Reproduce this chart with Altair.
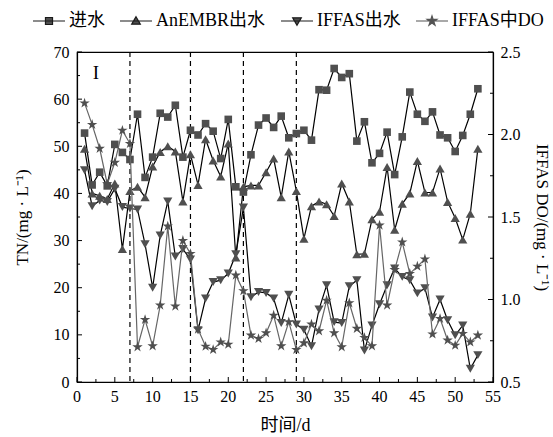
import altair as alt
import pandas as pd

# ---------------- data ----------------
days = list(range(1, 54))
influent = [52.8, 41.8, 44.5, 41.6, 50.4, 48.7, 47.2, 56.8, 43.4, 47.7,
            57.0, 56.2, 58.7, 47.7, 53.4, 52.4, 54.8, 53.2, 47.4, 55.7,
            41.4, 40.3, 48.2, 54.5, 56.0, 54.0, 56.4, 51.8, 52.7, 53.4,
            51.3, 62.0, 61.9, 66.5, 64.6, 65.4, 51.1, 55.2, 46.5, 48.5,
            53.0, 44.0, 52.0, 61.5, 56.8, 55.3, 57.3, 52.4, 51.8, 48.9,
            52.3, 56.8, 62.2]
anembr = [49.5, 40.0, 39.5, 38.8, 42.1, 28.2, 40.5, 41.4, 39.2, 45.7,
          48.8, 50.0, 48.9, 38.3, 48.3, 41.8, 51.5, 47.0, 43.6, 50.6,
          26.4, 41.4, 41.7, 41.7, 44.5, 47.4, 39.2, 48.9, 40.5, 30.4,
          37.3, 38.3, 37.7, 35.2, 42.1, 38.3, 27.1, 27.2, 34.5, 36.1,
          45.6, 32.3, 37.8, 40.0, 46.9, 40.2, 40.2, 45.3, 38.2, 34.8,
          30.2, 35.7, 49.5]
iffas = [44.9, 37.3, 38.5, 38.2, 41.0, 37.1, 36.8, 36.6, 29.2, 20.0,
         31.1, 38.3, 26.6, 28.2, 26.0, 11.0, 17.7, 21.2, 21.6, 23.0,
         27.1, 37.0, 18.0, 19.1, 18.9, 17.7, 12.5, 18.5, 12.2, 11.1,
         7.6, 15.4, 20.5, 12.7, 12.5, 20.3, 21.6, 6.7, 12.0, 16.5,
         20.5, 24.1, 22.3, 21.6, 18.8, 19.9, 13.7, 17.5, 13.1, 9.9,
         12.0, 2.8, 5.7]
do_vals = [2.19, 2.06, 1.915, 1.70, 1.83, 2.025, 1.945, 0.712, 0.878, 0.718,
           0.965, 1.444, 0.959, 1.357, 1.278, 0.82, 0.716, 0.696, 0.742, 0.728,
           1.147, 1.052, 0.783, 0.763, 0.797, 0.904, 0.718, 0.864, 0.696, 0.736,
           0.85, 0.809, 0.995, 0.797, 0.712, 0.979, 0.824, 0.769, 0.718, 1.45,
           0.965, 1.18, 1.348, 1.157, 1.201, 1.245, 0.79, 0.884, 0.753, 0.722,
           0.793, 0.742, 0.783]
series_names = ["进水", "AnEMBR出水", "IFFAS出水", "IFFAS中DO"]
phase_days = [7, 15, 22, 29]
x_major = list(range(0, 56, 5))
x_minor = [2.5 + 5 * i for i in range(11)]
tn_major = list(range(0, 71, 10))
tn_minor = list(range(5, 70, 10))
do_major = [0.5, 1.0, 1.5, 2.0, 2.5]
do_minor = [0.75, 1.25, 1.75, 2.25]

# ---------------- styles ----------------
FONT = "Liberation Serif, Noto Sans CJK SC"
MARK = "#4f4f4f"
STAR = ("M0,-1L0.2245,-0.309L0.951,-0.309L0.363,0.118L0.588,0.809L0,0.382"
        "L-0.588,0.809L-0.363,0.118L-0.951,-0.309L-0.2245,-0.309Z")
LEG_SQ = "M-1,0H1M-0.22,-0.22H0.22V0.22H-0.22Z"
LEG_TU = "M-1,0H1M0,-0.27L0.27,0.2L-0.27,0.2Z"
LEG_TD = "M-1,0H1M0,0.27L0.27,-0.2L-0.27,-0.2Z"
LEG_ST = ("M-1,0H1M0,-0.32L0.0718,-0.0989L0.3043,-0.0989L0.1162,0.0378L0.1882,0.2589"
          "L0,0.1222L-0.1882,0.2589L-0.1162,0.0378L-0.3043,-0.0989L-0.0718,-0.0989Z")

tn_df = pd.DataFrame({
    "day": days * 3,
    "value": influent + anembr + iffas,
    "series": [series_names[0]] * len(days) + [series_names[1]] * len(days)
              + [series_names[2]] * len(days),
})
do_df = pd.DataFrame({"day": days, "do": do_vals})

x_axis = alt.Axis(values=x_major, title="时间/d", ticks=False, grid=False, labels=False,
                  titlePadding=34, titleFontSize=18)
X = alt.X("day:Q", scale=alt.Scale(domain=[0, 55], nice=False, zero=False), axis=x_axis)
Y_TN = alt.Y("value:Q", scale=alt.Scale(domain=[0, 70], nice=False),
             axis=alt.Axis(orient="left", values=tn_major, title="TN/(mg · L⁻¹)",
                           ticks=False, grid=False, labelPadding=8, titlePadding=22,
                           labelOverlap=False))
Y_DO = alt.Y("do:Q", scale=alt.Scale(domain=[0.5, 2.5], nice=False, zero=False),
             axis=alt.Axis(orient="right", values=do_major, format=".1f",
                           title="IFFAS DO/(mg · L⁻¹)", ticks=False, grid=False,
                           labelPadding=7, titlePadding=12, labelOverlap=False))

# ---------------- left (TN) group ----------------
dashed = alt.Chart(pd.DataFrame({"day": phase_days})).mark_rule(
    color="black", strokeWidth=1.2, strokeDash=[5, 4]).encode(x=X)

tn_lines = alt.Chart(tn_df).mark_line(color="black", strokeWidth=1.2).encode(
    x=X, y=Y_TN, detail="series:N")

shapes = ["square", "triangle-up", "triangle-down"]
sizes = [58, 85, 85]
tn_points = [
    alt.Chart(tn_df).transform_filter(alt.datum.series == series_names[i]).mark_point(
        shape=shapes[i], filled=True, color=MARK, opacity=1, size=sizes[i]).encode(
        x=X, y=Y_TN)
    for i in range(3)
]

xt_major = alt.Chart(pd.DataFrame({"day": x_major})).mark_rule(
    color="black", strokeWidth=1).encode(x=X, y=alt.value(330), y2=alt.value(325))
xt_minor = alt.Chart(pd.DataFrame({"day": x_minor})).mark_rule(
    color="black", strokeWidth=1).encode(x=X, y=alt.value(330), y2=alt.value(327))
x_labels = alt.Chart(pd.DataFrame({"day": x_major})).mark_text(
    font=FONT, fontSize=16, color="black", baseline="top", align="center").encode(
    x=X, y=alt.value(337), text=alt.Text("day:Q", format="d"))
lt_major = alt.Chart(pd.DataFrame({"value": tn_major})).mark_rule(
    color="black", strokeWidth=1).encode(y=Y_TN, x=alt.value(0), x2=alt.value(5))
lt_minor = alt.Chart(pd.DataFrame({"value": tn_minor})).mark_rule(
    color="black", strokeWidth=1).encode(y=Y_TN, x=alt.value(0), x2=alt.value(3))

label_i = alt.Chart(pd.DataFrame({"t": ["I"]})).mark_text(
    font=FONT, fontSize=19, color="black").encode(
    x=alt.datum(2.5), y=alt.datum(65.5), text="t:N")

leg = alt.Legend(title=None, orient="none", legendX=-45, legendY=-48,
                 direction="horizontal", columns=4, columnPadding=12,
                 symbolSize=1024, symbolStrokeWidth=1.2, symbolFillColor=MARK,
                 symbolOpacity=1, labelOffset=3, labelFont=FONT, labelFontSize=18,
                 labelColor="black")
legend_layer = alt.Chart(pd.DataFrame({"series": series_names})).mark_point(
    filled=False, fill=MARK, strokeWidth=1.2, opacity=1, clip=True).encode(
    x=alt.value(-300), y=alt.value(-300),
    shape=alt.Shape("series:N",
                    scale=alt.Scale(domain=series_names, range=[LEG_SQ, LEG_TU, LEG_TD, LEG_ST]),
                    sort=series_names, legend=leg),
    stroke=alt.Stroke("series:N",
                      scale=alt.Scale(domain=series_names,
                                      range=["#1a1a1a", "#1a1a1a", "#1a1a1a", "#555555"]),
                      sort=series_names, legend=leg))

left = alt.layer(dashed, tn_lines, *tn_points, xt_major, xt_minor, x_labels,
                 lt_major, lt_minor, label_i, legend_layer)

# ---------------- right (DO) group ----------------
do_line = alt.Chart(do_df).mark_line(color="#666666", strokeWidth=1.2).encode(x=X, y=Y_DO)
do_points = alt.Chart(do_df).mark_point(shape=STAR, filled=True, color=MARK, opacity=1,
                                        size=120).encode(x=X, y=Y_DO)
rt_major = alt.Chart(pd.DataFrame({"do": do_major})).mark_rule(
    color="black", strokeWidth=1).encode(y=Y_DO, x=alt.value(416), x2=alt.value(411))
rt_minor = alt.Chart(pd.DataFrame({"do": do_minor})).mark_rule(
    color="black", strokeWidth=1).encode(y=Y_DO, x=alt.value(416), x2=alt.value(413))
right = alt.layer(do_line, do_points, rt_major, rt_minor)

chart = alt.layer(left, right).resolve_scale(y="independent").properties(
    width=416, height=330,
    autosize=alt.AutoSizeParams(type="none"),
    padding={"left": 77, "top": 52, "right": 60, "bottom": 55},
    background="white",
).configure_view(stroke="black", strokeWidth=1.2).configure_axis(
    labelFont=FONT, titleFont=FONT, labelFontSize=16, titleFontSize=17,
    labelColor="black", titleColor="black", titleFontWeight="normal",
    domainColor="black", domainWidth=1.2,
)

chart.save("out.html", embed_options={"renderer": "svg", "actions": False})
